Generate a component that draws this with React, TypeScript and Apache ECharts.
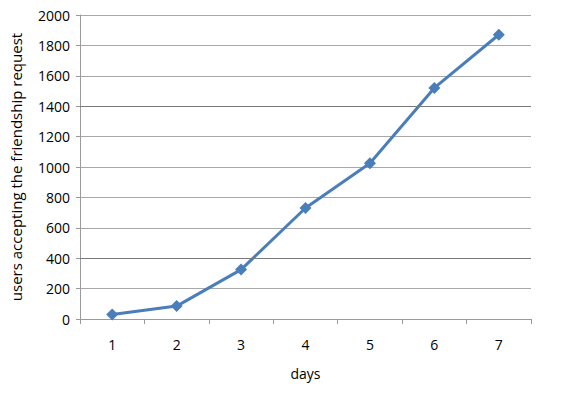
import React, { useEffect, useRef } from "react";
import * as echarts from "echarts";

const days = ["1", "2", "3", "4", "5", "6", "7"];
const users = [30, 85, 325, 730, 1025, 1520, 1870];
const darkGridLines = [400, 1400];

export default function App() {
  const ref = useRef<HTMLDivElement>(null);
  useEffect(() => {
    const chart = echarts.init(ref.current!, undefined, { renderer: "svg" });
    const font = "'Open Sans', 'Liberation Sans', sans-serif";
    chart.setOption({
      animation: false,
      backgroundColor: "#ffffff",
      grid: { left: 78, right: 33, top: 15, bottom: 75 },
      xAxis: {
        type: "category",
        data: days,
        boundaryGap: true,
        name: "days",
        nameLocation: "middle",
        nameGap: 47,
        nameTextStyle: { color: "#000", fontSize: 14, fontFamily: font },
        axisLine: { show: true, lineStyle: { color: "#9a9a9a", width: 1 } },
        axisTick: { show: true, length: 5, alignWithLabel: false, lineStyle: { color: "#9a9a9a" } },
        axisLabel: { color: "#000", fontSize: 14, fontFamily: font, margin: 18 },
      },
      yAxis: {
        type: "value",
        min: 0,
        max: 2000,
        interval: 200,
        name: "users accepting the friendship request",
        nameLocation: "middle",
        nameGap: 57,
        nameTextStyle: { color: "#000", fontSize: 15, fontFamily: font },
        axisLine: { show: true, lineStyle: { color: "#9a9a9a", width: 1 } },
        axisTick: { show: true, length: 4, lineStyle: { color: "#9a9a9a" } },
        axisLabel: {
          color: "#000",
          fontSize: 14,
          fontFamily: font,
          margin: 10,
          formatter: (v: number) => String(v),
        },
        splitLine: { show: true, lineStyle: { color: "#a8a8a8", width: 1 } },
      },
      series: [
        {
          type: "line",
          data: users,
          symbol: "diamond",
          symbolSize: 12,
          lineStyle: { color: "#4a7ebb", width: 3 },
          itemStyle: { color: "#4a7ebb" },
          markLine: {
            silent: true,
            symbol: "none",
            label: { show: false },
            lineStyle: { color: "#7a7a7a", width: 1, type: "solid" },
            data: darkGridLines.map((v) => ({ yAxis: v })),
          },
          z: 3,
        },
      ],
    });
    return () => chart.dispose();
  }, []);
  return <div ref={ref} style={{ width: 564, height: 394, margin: -8 }} />;
}
